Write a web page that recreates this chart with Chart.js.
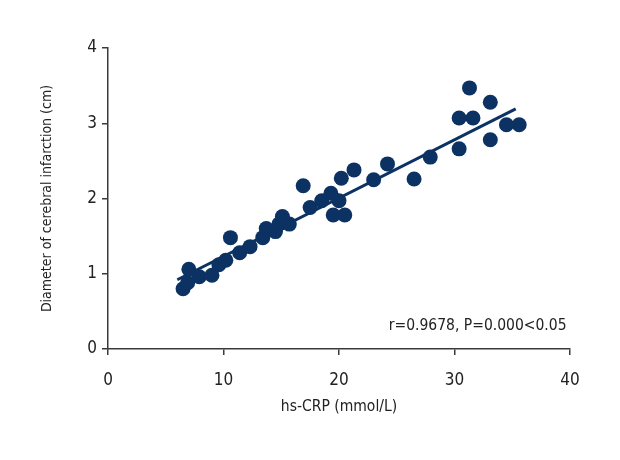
<!DOCTYPE html>
<html>
<head>
<meta charset="utf-8">
<script src="https://cdn.jsdelivr.net/npm/chart.js@4.4.1/dist/chart.umd.min.js"></script>
<style>
  html, body { margin: 0; padding: 0; background: #fff; }
  #wrap { width: 620px; height: 460px; }
</style>
</head>
<body>
<div id="wrap"><canvas id="chart" width="620" height="460"></canvas></div>
<script>
// hs-CRP values (x) and infarction diameter (y)
const hsCRP = [6.5, 6.9, 7.0, 7.9, 9.0, 9.6, 10.2, 10.6, 11.4, 12.3, 13.4, 13.7, 14.5, 14.8, 15.1, 15.7,
               16.9, 17.5, 18.5, 19.3, 19.5, 20.0, 20.2, 20.5, 21.3, 23.0, 24.2, 26.5, 27.9,
               30.4, 30.4, 31.3, 31.6, 33.1, 33.1, 34.5, 35.6];
const diameter = [0.80, 0.88, 1.06, 0.96, 0.98, 1.12, 1.18, 1.48, 1.28, 1.36, 1.48, 1.60, 1.56, 1.66, 1.76, 1.66,
                  2.17, 1.88, 1.97, 2.07, 1.78, 1.97, 2.27, 1.78, 2.38, 2.25, 2.46, 2.26, 2.55,
                  2.66, 3.07, 3.47, 3.07, 3.28, 2.78, 2.98, 2.98];

// fitted line endpoints
const fitX = [6.0, 35.3];
const fitY = [0.92, 3.19];

const xTicks = [0, 10, 20, 30, 40];
const yTicks = [0, 1, 2, 3, 4];

const statText = "r=0.9678, P=0.000<0.05";

const navy = "#0b3262";
const axisColor = "#3a3a3a";
const fontFamily = "'DejaVu Sans Condensed', 'Liberation Sans Narrow', sans-serif";

const points = hsCRP.map((v, i) => ({ x: v, y: diameter[i] }));
const fitLine = fitX.map((v, i) => ({ x: v, y: fitY[i] }));

const statPlugin = {
  id: "statText",
  afterDraw(chart) {
    const c = chart.ctx;
    const xs = chart.scales.x;
    const ys = chart.scales.y;
    c.save();
    c.font = "15.5px " + fontFamily;
    c.fillStyle = "#222";
    c.textAlign = "right";
    c.textBaseline = "middle";
    c.fillText(statText, xs.getPixelForValue(39.7), ys.getPixelForValue(0.31));
    c.restore();
  }
};

const ctx = document.getElementById("chart");
new Chart(ctx, {
  type: "scatter",
  data: {
    datasets: [
      {
        type: "line",
        data: fitLine,
        borderColor: navy,
        borderWidth: 3,
        pointRadius: 0,
        fill: false,
        order: 2,
      },
      {
        data: points,
        backgroundColor: navy,
        borderWidth: 0,
        pointRadius: 7.5,
        pointHoverRadius: 7.5,
        order: 1,
      },
    ],
  },
  options: {
    responsive: false,
    animation: false,
    layout: { padding: { left: 0, right: 50, top: 48, bottom: 40 } },
    plugins: { legend: { display: false }, tooltip: { enabled: false } },
    scales: {
      x: {
        type: "linear",
        min: 0,
        max: 40,
        afterBuildTicks: (s) => { s.ticks = xTicks.map(v => ({ value: v })); },
        afterFit: (s) => { s.height = 71; },
        border: { color: axisColor, width: 1.5 },
        grid: { drawOnChartArea: false, drawTicks: true, tickLength: 6, color: axisColor, lineWidth: 1.5 },
        ticks: { color: "#222", padding: 15, font: { family: fontFamily, size: 17 } },
        title: { display: true, text: "hs-CRP (mmol/L)", color: "#222", padding: { top: 5 }, font: { family: fontFamily, size: 15.5 } },
      },
      y: {
        type: "linear",
        min: 0,
        max: 4,
        afterBuildTicks: (s) => { s.ticks = yTicks.map(v => ({ value: v })); },
        afterFit: (s) => { s.width = 108; },
        border: { color: axisColor, width: 1.5 },
        grid: { drawOnChartArea: false, drawTicks: true, tickLength: 6, color: axisColor, lineWidth: 1.5 },
        ticks: { color: "#222", padding: 5, font: { family: fontFamily, size: 17 } },
        title: { display: true, text: "Diameter of cerebral infarction (cm)", color: "#222", padding: { top: 39, bottom: 0 }, font: { family: fontFamily, size: 14 } },
      },
    },
  },
  plugins: [statPlugin],
});
</script>
</body>
</html>
